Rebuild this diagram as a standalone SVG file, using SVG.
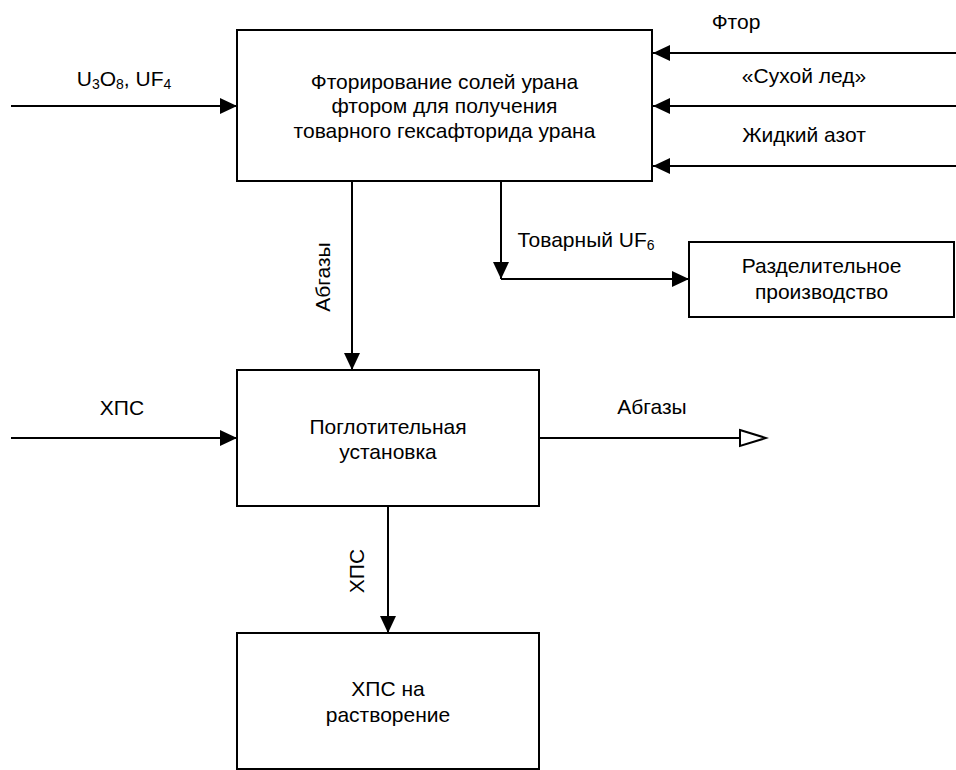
<svg xmlns="http://www.w3.org/2000/svg" width="956" height="770" viewBox="0 0 956 770">
<style>
  .box { fill: #ffffff; stroke: #000000; stroke-width: 2; }
  .line { fill: none; stroke: #000000; stroke-width: 2; }
  text { font-family: "Liberation Sans", Arial, sans-serif; font-size: 21px; fill: #000000; }
  .c { text-anchor: middle; }
  .sub { font-size: 14px; }
</style>
<defs>
  <marker id="arr" markerUnits="userSpaceOnUse" markerWidth="18" markerHeight="16" refX="17" refY="8" orient="auto">
    <path d="M0,0 L17,8 L0,16 Z" fill="#000000"/>
  </marker>
  <marker id="open" markerUnits="userSpaceOnUse" markerWidth="30" markerHeight="20" refX="27" refY="10" orient="auto">
    <path d="M1,2 L27,10 L1,18 Z" fill="#ffffff" stroke="#000000" stroke-width="2"/>
  </marker>
</defs>
<rect width="956" height="770" fill="#ffffff"/>

<g id="connectors">
  <line class="line" x1="11" y1="106" x2="237" y2="106" marker-end="url(#arr)"/>
  <line class="line" x1="956" y1="53" x2="653" y2="53" marker-end="url(#arr)"/>
  <line class="line" x1="956" y1="106" x2="653" y2="106" marker-end="url(#arr)"/>
  <line class="line" x1="956" y1="166" x2="653" y2="166" marker-end="url(#arr)"/>
  <line class="line" x1="352" y1="181" x2="352" y2="370" marker-end="url(#arr)"/>
  <line class="line" x1="501" y1="181" x2="501" y2="279" marker-end="url(#arr)"/>
  <line class="line" x1="501" y1="279" x2="689" y2="279" marker-end="url(#arr)"/>
  <line class="line" x1="11" y1="438" x2="237" y2="438" marker-end="url(#arr)"/>
  <line class="line" x1="539" y1="438" x2="766" y2="438" marker-end="url(#open)"/>
  <line class="line" x1="388" y1="506" x2="388" y2="633" marker-end="url(#arr)"/>

  <text x="124" y="86" class="c">U<tspan class="sub" dy="3">3</tspan><tspan dy="-3">O</tspan><tspan class="sub" dy="3">8</tspan><tspan dy="-3">, UF</tspan><tspan class="sub" dy="3">4</tspan></text>
  <text x="736" y="29" class="c">Фтор</text>
  <text x="804" y="83" class="c">«Сухой лед»</text>
  <text x="804" y="142" class="c">Жидкий азот</text>
  <text x="586" y="247" class="c">Товарный UF<tspan class="sub" dy="3">6</tspan></text>
  <text x="0" y="0" class="c" transform="translate(330,277) rotate(-90)">Абгазы</text>
  <text x="122" y="415" class="c">ХПС</text>
  <text x="652" y="414" class="c">Абгазы</text>
  <text x="0" y="0" class="c" transform="translate(364,571) rotate(-90)">ХПС</text>
</g>

<g id="node-fluorination">
  <rect class="box" x="237" y="30" width="415" height="151"/>
  <text x="444.5" y="89" class="c">Фторирование солей урана</text>
  <text x="444.5" y="113" class="c">фтором для получения</text>
  <text x="444.5" y="138" class="c">товарного гексафторида урана</text>
</g>

<g id="node-separation">
  <rect class="box" x="689" y="242" width="265" height="75"/>
  <text x="821.5" y="273" class="c">Разделительное</text>
  <text x="821.5" y="299" class="c">производство</text>
</g>

<g id="node-absorption">
  <rect class="box" x="237" y="370" width="302" height="136"/>
  <text x="388" y="434" class="c">Поглотительная</text>
  <text x="388" y="459" class="c">установка</text>
</g>

<g id="node-dissolution">
  <rect class="box" x="237" y="633" width="302" height="136"/>
  <text x="388" y="696" class="c">ХПС на</text>
  <text x="388" y="722" class="c">растворение</text>
</g>
</svg>
